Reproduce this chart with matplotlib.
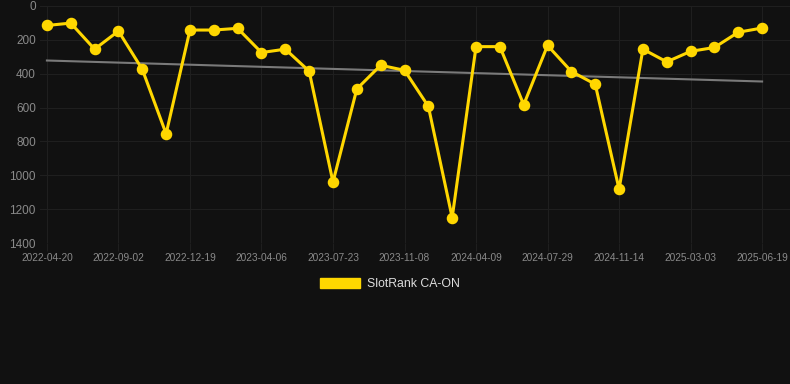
import numpy as np
from matplotlib import pyplot as plt
from matplotlib.patches import Patch

# rank values (lower is better, axis inverted)
ranks = [115, 101, 255, 148, 374, 755, 142, 142, 132, 275, 255, 385,
         1040, 490, 350, 380, 593, 1250, 240, 240, 583, 233, 387, 462,
         1082, 255, 330, 268, 245, 155, 130]
tick_labels = ["2022-04-20", "2022-09-02", "2022-12-19", "2023-04-06",
               "2023-07-23", "2023-11-08", "2024-04-09", "2024-07-29",
               "2024-11-14", "2025-03-03", "2025-06-19"]
trend_ends = [322, 446]
series_name = "SlotRank CA-ON"

bg = "#111111"
gold = "#FFD700"
grid_c = "#1f1f1f"
text_c = "#8a8a8a"

W, H = 790, 384
fig = plt.figure(figsize=(W / 100, H / 100), dpi=100, facecolor=bg)
ax = fig.add_axes([40 / W, 1 - 243 / H, 750 / W, 237 / H], facecolor=bg)

x = np.arange(len(ranks))
ax.plot([x[0], x[-1]], trend_ends, color="#7a7a7a", lw=1.5, zorder=2)
ax.plot(x, ranks, color=gold, lw=2.2, marker="o", markersize=7.3,
        markerfacecolor=gold, markeredgecolor=gold, zorder=3)

ax.set_xlim(-0.29, 31.17)
ax.set_ylim(1400, 0)
ax.set_yticks(range(0, 1401, 200))
ax.set_xticks(x[::3])
ax.set_xticklabels(tick_labels)

ax.grid(True, color=grid_c, lw=0.8)
for s in ax.spines.values():
    s.set_visible(False)
ax.tick_params(axis="y", length=0, pad=3, labelsize=8.5, labelcolor=text_c,
               labelfontfamily="Liberation Sans")
ax.tick_params(axis="x", length=6, color=grid_c, pad=1.5, labelsize=7.3,
               labelcolor=text_c, labelfontfamily="Liberation Sans")

handle = Patch(facecolor=gold, edgecolor=gold)
leg = fig.legend([handle], [series_name], loc="center",
                 bbox_to_anchor=(390 / W, 1 - 284 / H), frameon=False,
                 handlelength=3.3, handleheight=0.9, handletextpad=0.55,
                 prop={"family": "Liberation Sans", "size": 8.8})
for t in leg.get_texts():
    t.set_color("#dddddd")

fig.savefig("out.png", dpi=100, facecolor=bg)
